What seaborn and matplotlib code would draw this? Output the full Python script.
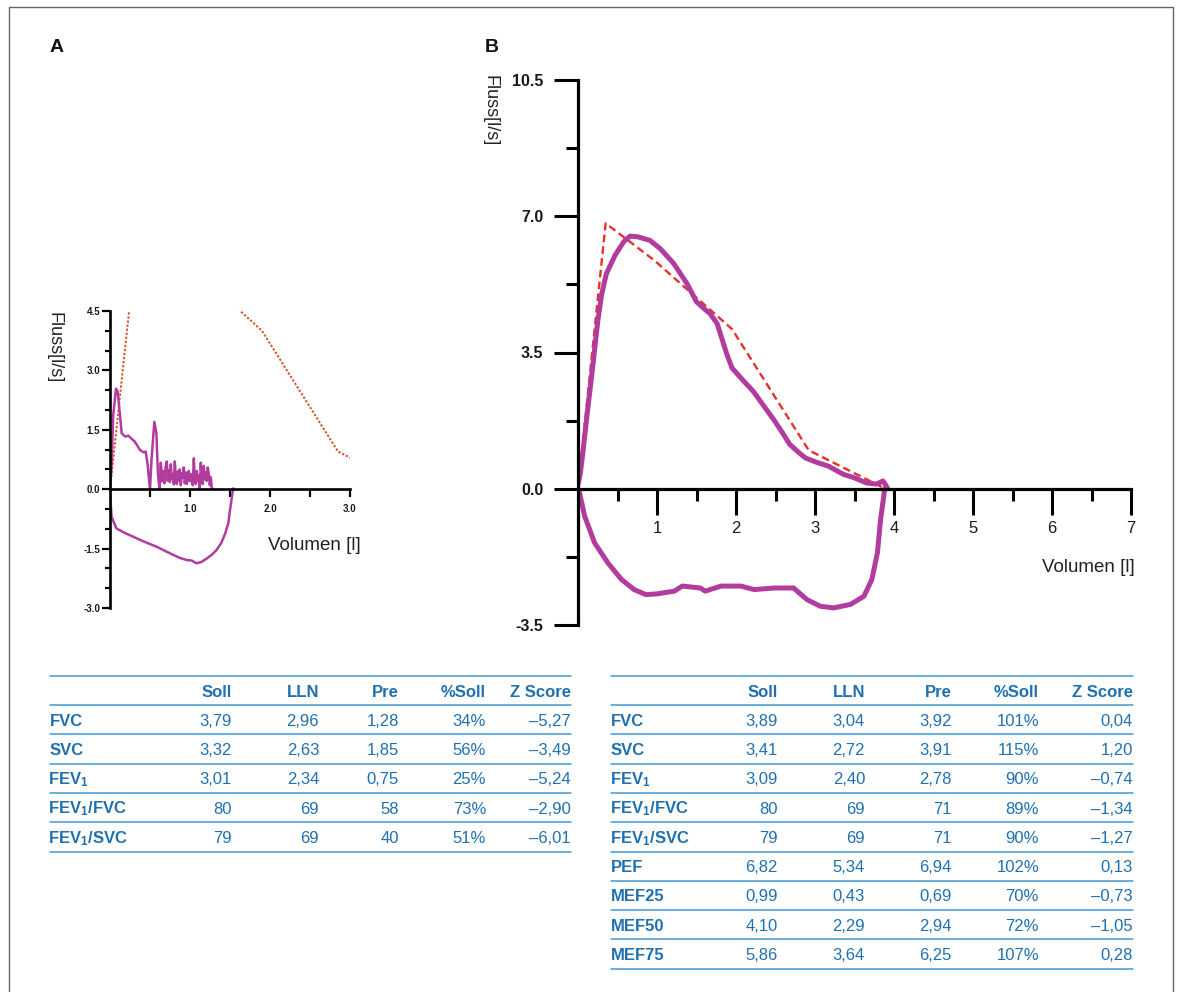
import matplotlib
matplotlib.use('Agg')
import matplotlib.pyplot as plt
import seaborn as sns
from matplotlib.lines import Line2D

# ===== Daten =====
# A: Fluss-Volumen-Kurve (Soll = gestrichelt, gemessen = violett)
a_soll_vol = [0.0, 0.35, 0.95, 1.90, 2.85, 3.79]
a_soll_flow = [0.0, 6.6, 5.75, 4.0, 0.95, 0.0]

a_exp_vol = [0.00, 0.02, 0.04, 0.075, 0.096, 0.125, 0.146, 0.19, 0.23, 0.31,
             0.375, 0.42, 0.446, 0.47, 0.50, 0.52, 0.554, 0.58, 0.60,
             0.620, 0.635, 0.650, 0.665, 0.680, 0.695, 0.710, 0.722, 0.735, 0.748,
             0.760, 0.772, 0.785, 0.798, 0.810, 0.822, 0.835, 0.848, 0.860, 0.872,
             0.885, 0.898, 0.910, 0.922, 0.935, 0.948, 0.960, 0.972, 0.985, 0.998,
             1.010, 1.022, 1.035, 1.048, 1.060, 1.072, 1.085, 1.098, 1.110, 1.122,
             1.135, 1.148, 1.160, 1.172, 1.185, 1.198, 1.210, 1.222, 1.235, 1.248,
             1.260, 1.272, 1.285]
a_exp_flow = [0.0, 0.6, 1.87, 2.54, 2.46, 1.87, 1.41, 1.33, 1.35, 1.20,
              0.99, 0.93, 0.95, 0.63, 0.0, 0.78, 1.70, 1.41, 0.36,
              0.00, 0.67, 0.20, 0.46, 0.15, 0.55, 0.70, 0.21, 0.48, 0.18,
              0.63, 0.25, 0.38, 0.12, 0.70, 0.30, 0.13, 0.45, 0.22, 0.50,
              0.10, 0.40, 0.29, 0.55, 0.15, 0.42, 0.13, 0.35, 0.46, 0.20,
              0.38, 0.21, 0.10, 0.78, 0.25, 0.13, 0.46, 0.20, 0.35, 0.00,
              0.67, 0.20, 0.13, 0.59, 0.25, 0.42, 0.21, 0.55, 0.38, 0.10,
              0.30, 0.04, 0.00]

a_insp_vol = [0.00, 0.01, 0.02, 0.08, 0.18, 0.29, 0.42, 0.58, 0.70, 0.79,
              0.88, 0.96, 1.02, 1.08, 1.14, 1.21, 1.27, 1.33, 1.39, 1.44,
              1.48, 1.50, 1.52, 1.53, 1.54]
a_insp_flow = [0.00, -0.40, -0.70, -0.99, -1.10, -1.20, -1.32, -1.45, -1.57, -1.66,
               -1.74, -1.79, -1.80, -1.87, -1.84, -1.75, -1.66, -1.54, -1.36, -1.12,
               -0.85, -0.53, -0.25, -0.10, 0.02]

# B
b_soll_vol = [0.0, 0.35, 0.97, 1.95, 2.92, 3.89]
b_soll_flow = [0.0, 6.82, 5.86, 4.10, 0.99, 0.0]

b_exp_vol = [0.00, 0.03, 0.06, 0.12, 0.19, 0.25, 0.30, 0.36, 0.47, 0.58,
             0.66, 0.76, 0.91, 1.04, 1.21, 1.38, 1.50, 1.60, 1.67, 1.76,
             1.88, 1.95, 2.10, 2.22, 2.34, 2.49, 2.60, 2.68, 2.80, 2.88,
             3.02, 3.17, 3.36, 3.50, 3.65, 3.78, 3.86, 3.90, 3.92]
b_exp_flow = [0.10, 0.40, 0.90, 1.99, 3.20, 4.30, 5.00, 5.53, 6.00, 6.35,
              6.49, 6.47, 6.38, 6.17, 5.79, 5.27, 4.80, 4.62, 4.50, 4.25,
              3.48, 3.10, 2.76, 2.50, 2.16, 1.74, 1.40, 1.14, 0.92, 0.79,
              0.68, 0.58, 0.37, 0.28, 0.15, 0.12, 0.20, 0.08, 0.00]

b_insp_vol = [0.00, 0.02, 0.085, 0.21, 0.38, 0.55, 0.71, 0.86, 1.00, 1.22,
              1.32, 1.55, 1.61, 1.81, 2.06, 2.23, 2.48, 2.73, 2.90, 3.07,
              3.24, 3.45, 3.62, 3.72, 3.79, 3.83, 3.87, 3.88]
b_insp_flow = [0.00, -0.11, -0.71, -1.39, -1.91, -2.33, -2.59, -2.72, -2.70, -2.63,
               -2.50, -2.55, -2.63, -2.50, -2.50, -2.59, -2.55, -2.55, -2.85, -3.02,
               -3.06, -2.97, -2.76, -2.33, -1.65, -0.79, -0.20, 0.00]

# Achsen / Ticks
a_yticks = [-3.0, -1.5, 0.0, 1.5, 3.0, 4.5]
a_yticklabels = ['-3.0', '-1.5', '0.0', '1.5', '3.0', '4.5']
a_yminor = [-2.5, -2.0, -1.0, -0.5, 0.5, 1.0, 2.0, 2.5, 3.5, 4.0]
a_xticks = [1.0, 2.0, 3.0]
a_xticklabels = ['1.0', '2.0', '3.0']
a_xminor = [0.5, 1.5, 2.5]

b_yticks = [-3.5, 0.0, 3.5, 7.0, 10.5]
b_yticklabels = ['-3.5', '0.0', '3.5', '7.0', '10.5']
b_yminor = [-1.75, 1.75, 5.25, 8.75]
b_xticks = [1, 2, 3, 4, 5, 6, 7]
b_xticklabels = ['1', '2', '3', '4', '5', '6', '7']
b_xminor = [0.5, 1.5, 2.5, 3.5, 4.5, 5.5, 6.5]

# Tabellen
tab_cols = ['Soll', 'LLN', 'Pre', '%Soll', 'Z Score']

a_params = ['FVC', 'SVC', r'$\mathbf{FEV_1}$', r'$\mathbf{FEV_1/FVC}$', r'$\mathbf{FEV_1/SVC}$']
a_soll = ['3,79', '3,32', '3,01', '80', '79']
a_lln = ['2,96', '2,63', '2,34', '69', '69']
a_pre = ['1,28', '1,85', '0,75', '58', '40']
a_pct = ['34%', '56%', '25%', '73%', '51%']
a_z = ['–5,27', '–3,49', '–5,24', '–2,90', '–6,01']

b_params = ['FVC', 'SVC', r'$\mathbf{FEV_1}$', r'$\mathbf{FEV_1/FVC}$', r'$\mathbf{FEV_1/SVC}$',
            'PEF', 'MEF25', 'MEF50', 'MEF75']
b_soll = ['3,89', '3,41', '3,09', '80', '79', '6,82', '0,99', '4,10', '5,86']
b_lln = ['3,04', '2,72', '2,40', '69', '69', '5,34', '0,43', '2,29', '3,64']
b_pre = ['3,92', '3,91', '2,78', '71', '71', '6,94', '0,69', '2,94', '6,25']
b_pct = ['101%', '115%', '90%', '89%', '90%', '102%', '70%', '72%', '107%']
b_z = ['0,04', '1,20', '–0,74', '–1,34', '–1,27', '0,13', '–0,73', '–1,05', '0,28']

# ===== Stil =====
sns.set_theme(style='white')
plt.rcParams['font.family'] = ['Liberation Sans', 'DejaVu Sans']
plt.rcParams['mathtext.fontset'] = 'custom'
plt.rcParams['mathtext.rm'] = 'Liberation Sans'
plt.rcParams['mathtext.bf'] = 'Liberation Sans:bold'
plt.rcParams['mathtext.it'] = 'Liberation Sans:italic'
plt.rcParams['axes.unicode_minus'] = False

PURPLE = '#b13c9e'
RED_A = '#d4552c'
RED_B = '#e8302a'
BLUE = '#2070b0'
LINE_BLUE = '#3f9ad6'

W, H = 1178, 992
fig = plt.figure(figsize=(W / 100, H / 100), dpi=100)

# Overlay in Pixelkoordinaten für Beschriftung / Tabellen
ov = fig.add_axes([0, 0, 1, 1], zorder=0)
ov.set_xlim(0, W)
ov.set_ylim(H, 0)
ov.axis('off')
ov.add_line(Line2D([8.5, 8.5, 1172.5, 1172.5], [992, 6.5, 6.5, 992], color='#666666', lw=1.0))

ov.text(57, 47, 'A', ha='center', va='center', fontsize=14, fontweight='bold', color='#111111')
ov.text(492, 47, 'B', ha='center', va='center', fontsize=14, fontweight='bold', color='#111111')


def style_axes(ax, lw, xt, xtl, xmin, yt, ytl, ymin):
    for s in ['top', 'right']:
        ax.spines[s].set_visible(False)
    ax.spines['bottom'].set_position(('data', 0))
    for s in ['left', 'bottom']:
        ax.spines[s].set_linewidth(lw)
        ax.spines[s].set_color('black')
    ax.set_xticks(xt)
    ax.set_xticklabels(xtl)
    ax.set_xticks(xmin, minor=True)
    ax.set_yticks(yt)
    ax.set_yticklabels(ytl)
    ax.set_yticks(ymin, minor=True)
    ax.set_xlabel('')
    ax.set_ylabel('')
    ax.set_facecolor('none')
    ax.grid(False)


# ===== A =====
axA = fig.add_axes([110 / W, 1 - 608 / H, 240 / W, (608 - 311) / H], zorder=2)
sns.lineplot(x=a_soll_vol, y=a_soll_flow, ax=axA, sort=False, estimator=None,
             color=RED_A, lw=1.4, linestyle=(0, (1.2, 0.9)))
sns.lineplot(x=a_exp_vol, y=a_exp_flow, ax=axA, sort=False, estimator=None,
             color=PURPLE, lw=1.8)
sns.lineplot(x=a_insp_vol, y=a_insp_flow, ax=axA, sort=False, estimator=None,
             color=PURPLE, lw=1.8)
axA.set_xlim(0, 3.0)
axA.set_ylim(-3.0, 4.5)
style_axes(axA, 1.9, a_xticks, a_xticklabels, a_xminor, a_yticks, a_yticklabels, a_yminor)
axA.tick_params(axis='both', which='both', direction='out', color='black', width=1.6,
                labelsize=7, labelcolor='#1a1a1a', bottom=True, left=True)
axA.tick_params(axis='x', which='both', length=6, pad=4.5)
axA.tick_params(axis='y', which='major', length=5.5, pad=1.5)
axA.tick_params(axis='y', which='minor', length=3.5)
for t in axA.get_xticklabels() + axA.get_yticklabels():
    t.set_fontweight('bold')

ov.text(54, 348, 'Fluss[l/s]', rotation=270, ha='center', va='center', fontsize=13, color='#222222')
ov.text(314, 545, 'Volumen [l]', ha='center', va='center', fontsize=13.5, color='#222222')

# ===== B =====
axB = fig.add_axes([578 / W, 1 - 625 / H, (1131 - 578) / W, (625 - 80) / H], zorder=2)
sns.lineplot(x=b_soll_vol, y=b_soll_flow, ax=axB, sort=False, estimator=None,
             color=RED_B, lw=1.7, linestyle=(0, (3.2, 1.8)))
sns.lineplot(x=b_exp_vol, y=b_exp_flow, ax=axB, sort=False, estimator=None,
             color=PURPLE, lw=3.6)
sns.lineplot(x=b_insp_vol, y=b_insp_flow, ax=axB, sort=False, estimator=None,
             color=PURPLE, lw=3.6)
axB.set_xlim(0, 7)
axB.set_ylim(-3.5, 10.5)
style_axes(axB, 2.3, b_xticks, b_xticklabels, b_xminor, b_yticks, b_yticklabels, b_yminor)
axB.tick_params(axis='both', which='both', direction='out', color='black', width=2.2,
                labelcolor='#1a1a1a', bottom=True, left=True)
axB.tick_params(axis='x', which='major', length=18.5, pad=5, labelsize=12)
axB.tick_params(axis='x', which='minor', length=8.5)
axB.tick_params(axis='y', which='major', length=17.5, pad=7.5, labelsize=11.5)
axB.tick_params(axis='y', which='minor', length=8.5)
for t in axB.get_yticklabels():
    t.set_fontweight('bold')

ov.text(490, 111, 'Fluss[l/s]', rotation=270, ha='center', va='center', fontsize=13, color='#222222')
ov.text(1135, 567, 'Volumen [l]', ha='right', va='center', fontsize=13.5, color='#222222')


# ===== Tabellen =====
def draw_table(x0, x1, col_right, params, columns, y_top=676.0, y_head=705.0, row_h=29.3):
    ov.add_line(Line2D([x0, x1], [y_top, y_top], color=LINE_BLUE, lw=1.1))
    ov.add_line(Line2D([x0, x1], [y_head, y_head], color=LINE_BLUE, lw=1.1))
    base_head = (y_top + y_head) / 2 + 6.5
    for name, xr in zip(tab_cols, col_right):
        ov.text(xr, base_head, name, ha='right', va='baseline', fontsize=12,
                fontweight='bold', color=BLUE)
    for i, p in enumerate(params):
        yc = y_head + row_h * (i + 0.5)
        xl = x0 - 1.5 if p.startswith('$') else x0
        ov.text(xl, yc + 6, p, ha='left', va='baseline', fontsize=12,
                fontweight='bold', color=BLUE)
        for vals, xr in zip(columns, col_right):
            ov.text(xr, yc + 6, vals[i], ha='right', va='baseline', fontsize=12,
                    color=BLUE)
        yl = y_head + row_h * (i + 1)
        ov.add_line(Line2D([x0, x1], [yl, yl], color=LINE_BLUE, lw=1.1))


draw_table(50, 571, [232, 319, 399, 486, 571], a_params, [a_soll, a_lln, a_pre, a_pct, a_z])
draw_table(611, 1133, [778, 865, 952, 1039, 1133], b_params, [b_soll, b_lln, b_pre, b_pct, b_z])

plt.savefig('out.png', dpi=100)
